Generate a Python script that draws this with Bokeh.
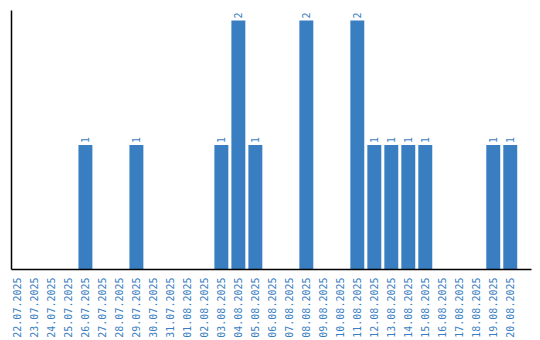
import math
from bokeh.plotting import figure
from bokeh.models import ColumnDataSource, Range1d, FixedTicker
from bokeh.core.properties import value
from bokeh.embed import file_html
from bokeh.resources import INLINE

dates = ["22.07.2025", "23.07.2025", "24.07.2025", "25.07.2025", "26.07.2025",
         "27.07.2025", "28.07.2025", "29.07.2025", "30.07.2025", "31.07.2025",
         "01.08.2025", "02.08.2025", "03.08.2025", "04.08.2025", "05.08.2025",
         "06.08.2025", "07.08.2025", "08.08.2025", "09.08.2025", "10.08.2025",
         "11.08.2025", "12.08.2025", "13.08.2025", "14.08.2025", "15.08.2025",
         "16.08.2025", "17.08.2025", "18.08.2025", "19.08.2025", "20.08.2025"]
counts = [0, 0, 0, 0, 1, 0, 0, 1, 0, 0,
          0, 0, 1, 2, 1, 0, 0, 2, 0, 0,
          2, 1, 1, 1, 1, 0, 0, 0, 1, 1]

BLUE = "#3a7ec2"
idx = list(range(len(dates)))
src = ColumnDataSource(dict(x=idx, y=counts))
nz = [i for i in idx if counts[i] > 0]
lab = ColumnDataSource(dict(x=nz, y=[counts[i] for i in nz], t=[str(counts[i]) for i in nz]))

p = figure(width=540, height=340, output_backend="svg", toolbar_location=None,
           x_range=Range1d(-0.35, 30.25), y_range=Range1d(0, 2.08),
           min_border_left=11, min_border_top=10, min_border_right=9, min_border_bottom=5)
p.outline_line_color = None
p.grid.visible = False
p.background_fill_color = "white"

p.vbar(x="x", top="y", width=0.82, bottom=0, source=src, fill_color=BLUE, line_color=None)
p.text(x="x", y="y", text="t", source=lab, angle=math.pi / 2, y_offset=-2,
       text_align="left", text_baseline="middle", text_color=BLUE,
       text_font=value("DejaVu Sans Mono"), text_font_size="10px")

xa = p.xaxis[0]
xa.ticker = FixedTicker(ticks=idx)
xa.major_label_overrides = {i: d for i, d in enumerate(dates)}
xa.major_label_orientation = math.pi / 2
xa.major_label_text_font = "DejaVu Sans Mono"
xa.major_label_text_font_size = "10px"
xa.major_label_text_color = BLUE
xa.major_label_standoff = 8
xa.major_tick_out = 0
xa.major_tick_in = 0
xa.minor_tick_out = 0
xa.minor_tick_in = 0
xa.axis_line_color = "black"
xa.axis_line_width = 1.5

ya = p.yaxis[0]
ya.ticker = FixedTicker(ticks=[])
ya.major_label_text_font_size = "0px"
ya.major_tick_out = 0
ya.minor_tick_out = 0
ya.major_label_standoff = 0
ya.axis_line_color = "black"
ya.axis_line_width = 1.5

open("out.html", "w").write(file_html(p, INLINE))
